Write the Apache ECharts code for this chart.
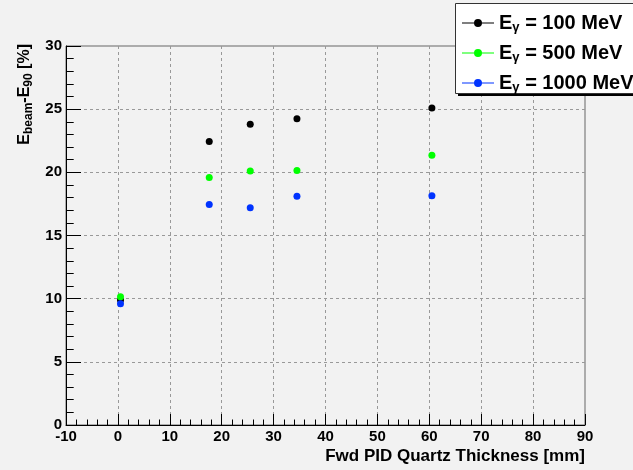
<!DOCTYPE html>
<html>
<head>
<meta charset="utf-8">
<script src="https://cdn.jsdelivr.net/npm/echarts@6/dist/echarts.min.js"></script>
<style>
html,body{margin:0;padding:0;background:#f2f2f2;}
#c{width:633px;height:470px;}
</style>
</head>
<body>
<div id="c"></div>
<script>
// ---- data ----
const thickness = [0.5, 17.6, 25.5, 34.5, 60.5];
const res100  = [9.9, 22.45, 23.8, 24.25, 25.1];
const res500  = [10.15, 19.6, 20.1, 20.15, 21.35];
const res1000 = [9.6, 17.45, 17.2, 18.1, 18.15];
const energies = ['100', '500', '1000'];
const seriesColors = ['#000000', '#00ff00', '#0033ff'];
const xTitle = 'Fwd PID Quartz Thickness [mm]';

const seriesValues = [res100, res500, res1000];
const names = energies.map(e => 'E_γ = ' + e + ' MeV');
const FONT = '"Liberation Sans", Arial, Helvetica, sans-serif';

const iconPath = 'path://M0,3.5 L12.2,3.5 L12.2,4.5 L0,4.5 Z M19.8,3.5 L32,3.5 L32,4.5 L19.8,4.5 Z M12,4 A4,4 0 1,1 20,4 A4,4 0 1,1 12,4 Z';

const chart = echarts.init(document.getElementById('c'), null, {renderer: 'canvas'});
chart.setOption({
  backgroundColor: '#f2f2f2',
  animation: false,
  textStyle: {fontFamily: FONT},
  grid: {left: 66, right: 48, top: 46, bottom: 45, show: true, borderColor: '#666', borderWidth: 1, backgroundColor: 'transparent'},
  xAxis: {
    type: 'value', min: -10, max: 90, interval: 10,
    axisLine: {onZero: false, lineStyle: {color: '#000', width: 1}},
    axisTick: {inside: true, length: 11, lineStyle: {color: '#000'}},
    minorTick: {show: true, splitNumber: 5, length: 5.5, lineStyle: {color: '#000'}},
    splitLine: {show: true, showMinLine: false, showMaxLine: false, lineStyle: {color: '#999', type: [3, 3], width: 1}},
    axisLabel: {color: '#000', fontWeight: 'bold', fontSize: 15, margin: 4, fontFamily: FONT},
    name: xTitle, nameLocation: 'end', nameGap: 0,
    nameTextStyle: {color: '#000', fontWeight: 'bold', fontSize: 17, align: 'right', verticalAlign: 'top', padding: [23, 0, 0, 0], fontFamily: FONT}
  },
  yAxis: {
    type: 'value', min: 0, max: 30, interval: 5,
    axisLine: {onZero: false, lineStyle: {color: '#000', width: 1}},
    axisTick: {inside: true, length: 15, lineStyle: {color: '#000'}},
    minorTick: {show: true, splitNumber: 5, length: 7.7, lineStyle: {color: '#000'}},
    splitLine: {show: true, showMinLine: false, showMaxLine: false, lineStyle: {color: '#999', type: [3, 3], width: 1}},
    axisLabel: {color: '#000', fontWeight: 'bold', fontSize: 15, margin: 4, fontFamily: FONT}
  },
  legend: {
    orient: 'vertical', left: 455, top: 3,
    padding: [10, 30, 1, 7],
    itemGap: 9, itemWidth: 32, itemHeight: 8,
    backgroundColor: 'transparent', borderWidth: 0,
    data: names.map((n, i) => ({name: n, icon: iconPath, itemStyle: {color: seriesColors[i], borderWidth: 0, borderColor: seriesColors[i]}})),
    formatter: function (name) {
      const i = names.indexOf(name);
      return '{m|E}{s|γ}{m| = ' + energies[i] + ' MeV}';
    },
    textStyle: {
      color: '#000',
      rich: {
        m: {fontSize: 20, fontWeight: 'bold', lineHeight: 22, fontFamily: FONT, color: '#000'},
        s: {fontSize: 13, fontWeight: 'bold', lineHeight: 13, verticalAlign: 'bottom', fontFamily: FONT, color: '#000'}
      }
    }
  },
  graphic: [
    {type: 'rect', z: 1, silent: true, shape: {x: 458, y: 6, width: 200, height: 90}, style: {fill: '#000'}},
    {type: 'rect', z: 2, silent: true, shape: {x: 455.5, y: 3.5, width: 200, height: 90}, style: {fill: '#fff', stroke: '#333', lineWidth: 1}},
    {
      type: 'text', x: 25, y: 44, rotation: Math.PI / 2,
      style: {
        text: '{m|E}{s|beam}{m|-E}{s|90}{m| [%]}',
        align: 'right', verticalAlign: 'middle',
        rich: {
          m: {fontSize: 16, fontWeight: 'bold', lineHeight: 20, fontFamily: FONT, fill: '#000'},
          s: {fontSize: 12, fontWeight: 'bold', lineHeight: 12, verticalAlign: 'bottom', fontFamily: FONT, fill: '#000'}
        }
      }
    }
  ],
  series: seriesValues.map((vals, i) => ({
    name: names[i], type: 'scatter', symbol: 'circle', symbolSize: 7,
    itemStyle: {color: seriesColors[i], opacity: 1},
    z: 2 + i,
    data: thickness.map((x, j) => [x, vals[j]])
  }))
});
</script>
</body>
</html>
